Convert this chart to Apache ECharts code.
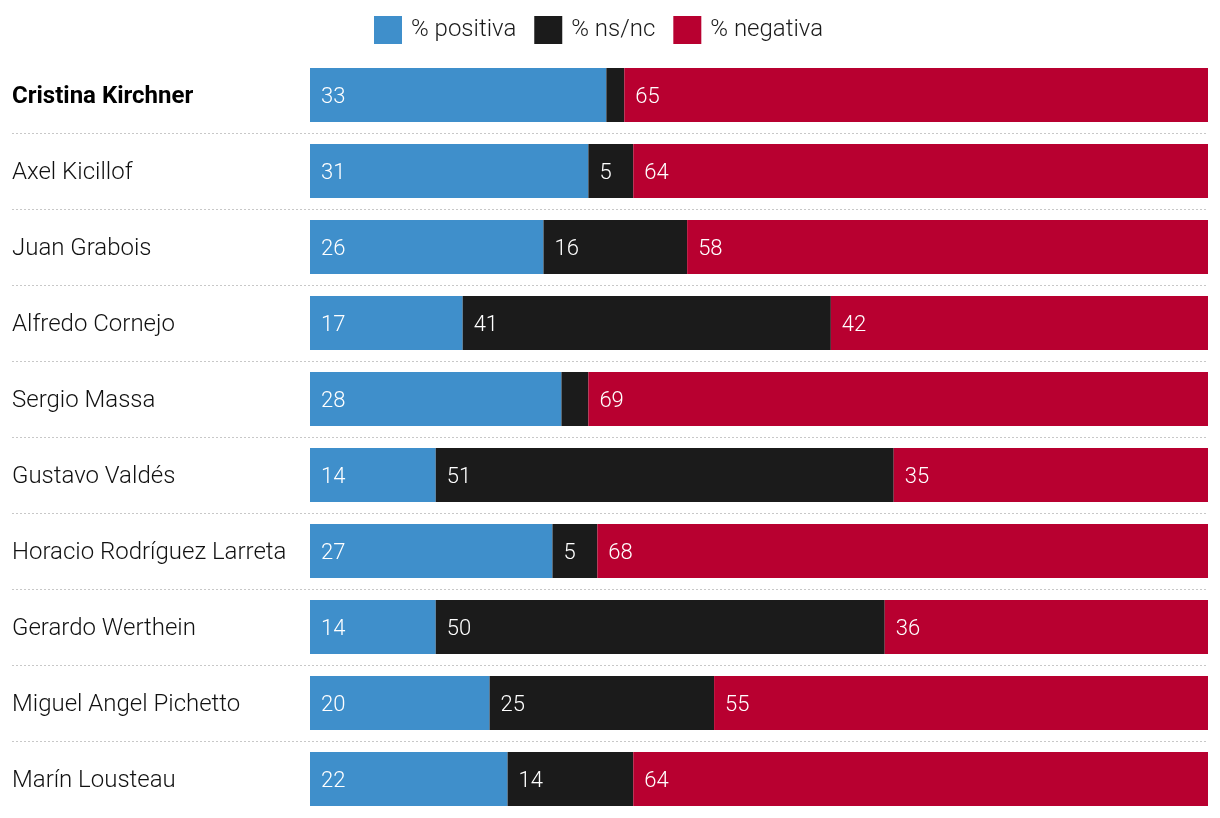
<!DOCTYPE html>
<html><head><meta charset="utf-8">
<script src="https://cdn.jsdelivr.net/npm/echarts@6/dist/echarts.min.js"></script>
<style>html,body{margin:0;padding:0;background:#fff}#c{width:1220px;height:818px}</style>
</head><body><div id="c"></div>
<script>
const categories = ['Cristina Kirchner','Axel Kicillof','Juan Grabois','Alfredo Cornejo','Sergio Massa','Gustavo Valdés','Horacio Rodríguez Larreta','Gerardo Werthein','Miguel Angel Pichetto','Marín Lousteau'];
const positiva = [33,31,26,17,28,14,27,14,20,22];
const nsnc = [2,5,16,41,3,51,5,50,25,14];
const negativa = [65,64,58,42,69,35,68,36,55,64];
const seriesNames = ['% positiva','% ns/nc','% negativa'];
const colors = ['#3f8fcb','#1b1b1b','#b80030'];

const chart = echarts.init(document.getElementById('c'));
const labelCfg = {
  show: true, position: 'insideLeft', distance: 11, offset: [0, 2], color: '#fff',
  fontFamily: 'Roboto', fontWeight: 300, fontSize: 22,
  formatter: p => p.value >= 5 ? String(p.value) : ''
};
const mk = (name, data, color) => ({
  name, type: 'bar', stack: 'total', data, xAxisIndex: 1, yAxisIndex: 1,
  barWidth: 54, itemStyle: {color}, label: labelCfg, silent: true
});
chart.setOption({
  animation: false,
  textStyle: {fontFamily: 'Roboto'},
  legend: {
    top: 11, left: 369, itemWidth: 28, itemHeight: 28, itemGap: 18,
    icon: 'rect', data: seriesNames,
    textStyle: {fontSize: 24, color: '#1b1b1b', fontFamily: 'Roboto', fontWeight: 300, padding: [0,0,0,4]}
  },
  grid: [
    {left: 12, right: 12, top: 57, bottom: 1},
    {left: 310, right: 12, top: 57, bottom: 1}
  ],
  xAxis: [
    {gridIndex: 0, type: 'value', min: 0, max: 100, show: false},
    {gridIndex: 1, type: 'value', min: 0, max: 100, show: false}
  ],
  yAxis: [
    {gridIndex: 0, type: 'category', data: categories, inverse: true,
     axisLine: {show: false}, axisTick: {show: false},
     splitLine: {show: true, showMinLine: false, showMaxLine: false,
       lineStyle: {type: [2,2], color: '#c8c8c8', width: 1}},
     axisLabel: {inside: true, margin: 0, fontSize: 24, color: '#111', fontFamily: 'Roboto', fontWeight: 300,
       padding: [3,0,0,0],
       formatter: (v, i) => i === 0 ? '{b|' + v + '}' : v,
       rich: {b: {fontWeight: 'bold', fontSize: 24, color: '#000', fontFamily: 'Roboto'}}}
    },
    {gridIndex: 1, type: 'category', data: categories, inverse: true, show: false}
  ],
  series: [
    mk(seriesNames[0], positiva, colors[0]),
    mk(seriesNames[1], nsnc, colors[1]),
    mk(seriesNames[2], negativa, colors[2])
  ]
});
</script></body></html>
